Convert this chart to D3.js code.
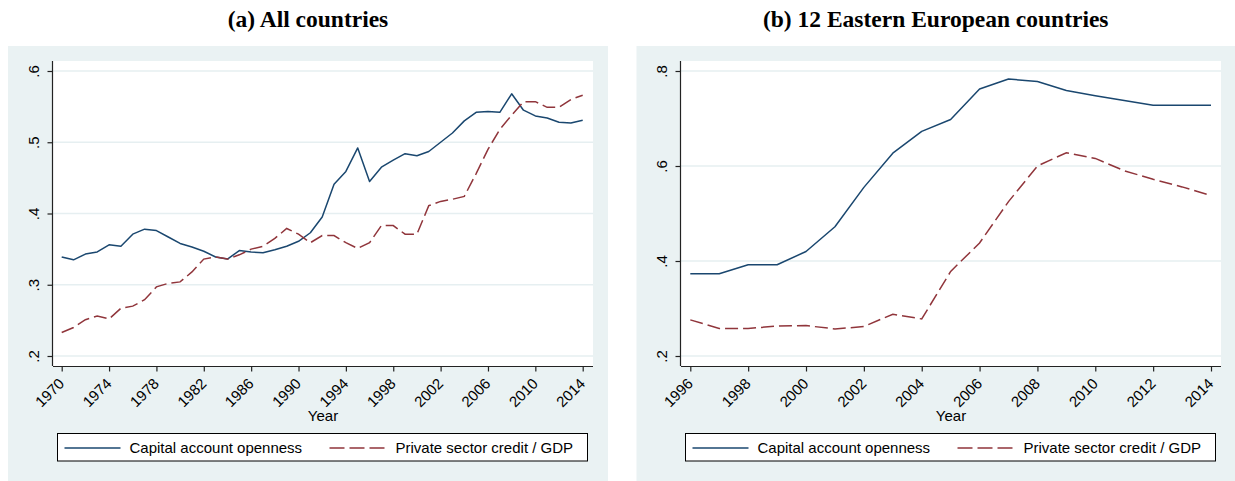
<!DOCTYPE html>
<html>
<head>
<meta charset="utf-8">
<script src="https://cdn.jsdelivr.net/npm/d3@7"></script>
<style>
  html, body { margin: 0; padding: 0; background: #ffffff; }
  svg { display: block; }
</style>
</head>
<body>
<svg id="chart" width="1235" height="481"></svg>
<script>
// ---------- DATA ----------
const yearsA = d3.range(1970, 2015);
const capOpenA = [0.339,0.335,0.343,0.346,0.356,0.354,0.371,0.378,0.376,0.367,
                  0.358,0.353,0.347,0.339,0.336,0.348,0.346,0.345,0.349,0.354,
                  0.361,0.373,0.395,0.441,0.459,0.492,0.445,0.465,0.475,0.484,
                  0.481,0.487,0.500,0.513,0.530,0.542,0.543,0.542,0.568,0.545,
                  0.537,0.534,0.528,0.527,0.531];
const creditA = [0.233,0.240,0.251,0.256,0.252,0.267,0.270,0.279,0.297,0.302,
                 0.304,0.318,0.336,0.339,0.336,0.342,0.350,0.354,0.365,0.379,
                 0.371,0.359,0.369,0.369,0.359,0.351,0.359,0.383,0.383,0.371,
                 0.371,0.411,0.417,0.420,0.424,0.456,0.490,0.518,0.538,0.557,
                 0.557,0.549,0.549,0.560,0.566];
const yearsB = d3.range(1996, 2015);
const capOpenB = [0.373,0.373,0.392,0.392,0.420,0.472,0.555,0.627,0.673,0.698,
                  0.762,0.783,0.778,0.759,0.748,0.738,0.728,0.728,0.728];
const creditB = [0.276,0.258,0.258,0.263,0.264,0.257,0.262,0.288,0.278,0.378,
                 0.438,0.525,0.600,0.628,0.616,0.590,0.572,0.556,0.538];

const xTicksA = d3.range(1970, 2015, 4);
const yTicksA = [0.2, 0.3, 0.4, 0.5, 0.6];
const xTicksB = d3.range(1996, 2015, 2);
const yTicksB = [0.2, 0.4, 0.6, 0.8];
const titles = ["(a) All countries", "(b) 12 Eastern European countries"];
const seriesNames = ["Capital account openness", "Private sector credit / GDP"];
const xTitle = "Year";

// ---------- STYLE ----------
const BLUE = "#1a476f", RED = "#90353b", BG = "#eaf2f3", GRID = "#e6eff1";
const SANS = "'Liberation Sans', Arial, Helvetica, sans-serif";
const SERIF = "'Liberation Serif', 'Times New Roman', Times, serif";

const svg = d3.select("#chart");

function panel(cfg) {
  const g = svg.append("g");
  // graph region
  g.append("rect").attr("x", cfg.bg[0]).attr("y", 46)
    .attr("width", cfg.bg[1] - cfg.bg[0]).attr("height", 481 - 46).attr("fill", BG);
  // title
  g.append("text").attr("x", (cfg.bg[0] + cfg.bg[1]) / 2).attr("y", 27)
    .attr("text-anchor", "middle").attr("font-family", SERIF)
    .attr("font-weight", "bold").attr("font-size", 23.5).attr("fill", "#000")
    .text(cfg.title);
  // plot region
  const pl = cfg.plot[0], pr = cfg.plot[1], pt = 61, pb = 366;
  g.append("rect").attr("x", pl).attr("y", pt).attr("width", pr - pl)
    .attr("height", pb - pt).attr("fill", "#fff");

  const x = d3.scaleLinear().domain(cfg.xDomain).range(cfg.xRange);
  const y = d3.scaleLinear().domain(cfg.yDomain).range([356, 71]);

  // gridlines
  g.append("g").selectAll("line").data(cfg.yTicks).join("line")
    .attr("x1", pl).attr("x2", pr)
    .attr("y1", d => y(d)).attr("y2", d => y(d))
    .attr("stroke", GRID).attr("stroke-width", 1.3);

  // series
  const line = d3.line().x(d => x(d[0])).y(d => y(d[1]));
  g.append("path").datum(cfg.years.map((yr, i) => [yr, cfg.s1[i]]))
    .attr("d", line).attr("fill", "none").attr("stroke", BLUE)
    .attr("stroke-width", 1.5).attr("stroke-linejoin", "round");
  g.append("path").datum(cfg.years.map((yr, i) => [yr, cfg.s2[i]]))
    .attr("d", line).attr("fill", "none").attr("stroke", RED)
    .attr("stroke-width", 1.5).attr("stroke-dasharray", "13,5");

  // y axis
  const yAxis = d3.axisLeft(y).tickValues(cfg.yTicks).tickSize(5).tickPadding(0)
    .tickFormat(d => d3.format(".1f")(d).replace(/^0/, ""));
  const ya = g.append("g").attr("transform", `translate(${pl - 0.5},0)`).call(yAxis);
  ya.select(".domain").attr("d", `M-0,${pt}V${pb}`).attr("stroke", "#222").attr("stroke-width", 1.2);
  ya.selectAll(".tick line").attr("stroke", "#222").attr("stroke-width", 1.2);
  ya.selectAll(".tick text")
    .attr("font-family", SANS).attr("font-size", 15).attr("fill", "#000")
    .attr("text-anchor", "middle").attr("dy", 0).attr("x", 0)
    .attr("transform", "translate(-14,0) rotate(-90)");

  // x axis
  const xAxis = d3.axisBottom(x).tickValues(cfg.xTicks).tickSize(5).tickPadding(0)
    .tickFormat(d3.format("d"));
  const xa = g.append("g").attr("transform", `translate(0,${pb + 0.5})`).call(xAxis);
  xa.select(".domain").attr("d", `M${pl},0H${pr}`).attr("stroke", "#222").attr("stroke-width", 1.2);
  xa.selectAll(".tick line").attr("stroke", "#222").attr("stroke-width", 1.2);
  xa.selectAll(".tick text")
    .attr("font-family", SANS).attr("font-size", 15).attr("fill", "#000")
    .attr("text-anchor", "end").attr("dy", 0).attr("y", 0)
    .attr("transform", "translate(3,18) rotate(-45)");

  // x title
  g.append("text").attr("x", (pl + pr) / 2).attr("y", 421)
    .attr("text-anchor", "middle").attr("font-family", SANS)
    .attr("font-size", 15).attr("fill", "#000").text(xTitle);

  // legend
  const lx = cfg.legend;
  const lg = g.append("g").attr("transform", `translate(${lx},433.5)`);
  lg.append("rect").attr("x", 0).attr("y", 0).attr("width", 530).attr("height", 27.5)
    .attr("fill", "#fff").attr("stroke", "#000").attr("stroke-width", 1);
  lg.append("line").attr("x1", 7).attr("x2", 63).attr("y1", 14.5).attr("y2", 14.5)
    .attr("stroke", BLUE).attr("stroke-width", 1.5);
  lg.append("text").attr("x", 72).attr("y", 19.5).attr("font-family", SANS)
    .attr("font-size", 15).attr("fill", "#000").text(seriesNames[0]);
  lg.append("line").attr("x1", 272).attr("x2", 329).attr("y1", 14.5).attr("y2", 14.5)
    .attr("stroke", RED).attr("stroke-width", 1.5).attr("stroke-dasharray", "15,5");
  lg.append("text").attr("x", 338).attr("y", 19.5).attr("font-family", SANS)
    .attr("font-size", 15).attr("fill", "#000").text(seriesNames[1]);
}

panel({
  bg: [8, 608], plot: [53, 593], title: titles[0],
  xDomain: [1970, 2014], xRange: [61.7, 582.7], yDomain: [0.2, 0.6],
  years: yearsA, s1: capOpenA, s2: creditA, xTicks: xTicksA, yTicks: yTicksA,
  legend: 57.5
});
panel({
  bg: [636.5, 1235], plot: [681, 1221], title: titles[1],
  xDomain: [1996, 2014], xRange: [690.3, 1211], yDomain: [0.2, 0.8],
  years: yearsB, s1: capOpenB, s2: creditB, xTicks: xTicksB, yTicks: yTicksB,
  legend: 685.5
});
</script>
</body>
</html>
